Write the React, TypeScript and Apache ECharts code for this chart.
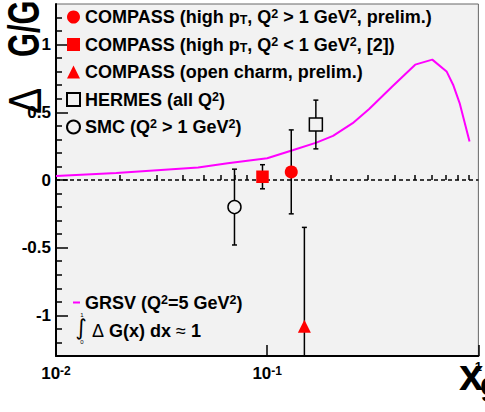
import React, { useEffect, useRef } from "react";
import * as echarts from "echarts";

// ---------- data ----------
const seriesNames = [
  "COMPASS (high pT, Q2 > 1 GeV2, prelim.)",
  "COMPASS (high pT, Q2 < 1 GeV2, [2])",
  "COMPASS (open charm, prelim.)",
  "HERMES (all Q2)",
  "SMC (Q2 > 1 GeV2)",
];
const legendLabels = [
  "COMPASS (high p{sub|T}, Q{sup|2} > 1 GeV{sup|2}, prelim.)",
  "COMPASS (high p{sub|T}, Q{sup|2} < 1 GeV{sup|2}, [2])",
  "COMPASS (open charm, prelim.)",
  "HERMES (all Q{sup|2})",
  "SMC (Q{sup|2} > 1 GeV{sup|2})",
];
const pointX = [0.13, 0.095, 0.15, 0.17, 0.07];
const pointY = [0.06, 0.024, -1.08, 0.41, -0.2];
const pointErr = [0.31, 0.089, 0.73, 0.18, 0.28];

const grsvName = "GRSV (Q2=5 GeV2)";
const grsvLabel = "GRSV (Q{sup|2}=5 GeV{sup|2})";
const grsvX = [0.01, 0.0193, 0.0471, 0.065, 0.1, 0.133, 0.171, 0.205, 0.254, 0.304, 0.391, 0.502, 0.605, 0.707, 0.759, 0.815, 0.908];
const grsvY = [0.03, 0.052, 0.093, 0.124, 0.161, 0.222, 0.276, 0.326, 0.42, 0.524, 0.691, 0.852, 0.889, 0.802, 0.704, 0.568, 0.284];

const xMinorTicks = [0.02, 0.03, 0.04, 0.05, 0.06, 0.07, 0.08, 0.09, 0.2, 0.3, 0.4, 0.5, 0.6, 0.7, 0.8, 0.9];
const yMajorTicks = [-1, -0.5, 0, 0.5, 1];
const yMinorTicks = [-1.2, -1.1, -0.9, -0.8, -0.7, -0.6, -0.4, -0.3, -0.2, -0.1, 0.1, 0.2, 0.3, 0.4, 0.6, 0.7, 0.8, 0.9, 1.1, 1.2];

// ---------- styles ----------
const FONT = "'Liberation Sans', Arial, Helvetica, sans-serif";
const BG = "#f2f2f2";
const RED = "#ff0000";
const MAGENTA = "#ff00ff";
const symbols = ["circle", "rect", "triangle", "rect", "circle"];
const symbolSizes = [13, 12.5, 13, 13, 13];
const fills = [RED, RED, RED, BG, BG];
const borders = [RED, RED, RED, "#000", "#000"];
const borderWidths = [0, 0, 0, 1.5, 1.5];
const LEG_FS = 18;

const labelRich = {
  sup: { fontSize: 12.5, fontWeight: "bold", fontFamily: FONT, verticalAlign: "top", lineHeight: 11, color: "#000" },
  sub: { fontSize: 12.5, fontWeight: "bold", fontFamily: FONT, verticalAlign: "bottom", lineHeight: 8, color: "#000" },
};

export default function App() {
  const ref = useRef<HTMLDivElement>(null);

  useEffect(() => {
    if (!ref.current) return;
    const chart = echarts.init(ref.current, null, { renderer: "svg" });

    const labelMap: Record<string, string> = {};
    seriesNames.forEach((n, i) => (labelMap[n] = legendLabels[i]));
    labelMap[grsvName] = grsvLabel;

    const pointSeries = seriesNames.map((name, i) => ({
      name,
      type: "scatter",
      xAxisIndex: 0,
      yAxisIndex: 0,
      symbol: symbols[i],
      symbolSize: symbolSizes[i],
      itemStyle: { color: fills[i], borderColor: borders[i], borderWidth: borderWidths[i], opacity: 1 },
      z: 5,
      clip: true,
      data: [[pointX[i], pointY[i]]],
    }));

    const errData = pointX.map((x, i) => [x, pointY[i], pointErr[i]]);

    const legendText = {
      fontFamily: FONT,
      fontWeight: "bold",
      fontSize: LEG_FS,
      lineHeight: 19,
      color: "#000",
      rich: labelRich,
    };

    const option: any = {
      animation: false,
      backgroundColor: "#ffffff",
      textStyle: { fontFamily: FONT },
      grid: {
        left: 56,
        right: 1,
        top: 4,
        bottom: 56,
        show: true,
        backgroundColor: BG,
        borderColor: "#666",
        borderWidth: 1,
      },
      legend: [
        {
          data: seriesNames.map((n, i) => ({ name: n, icon: symbols[i] })),
          orient: "vertical",
          left: 66,
          top: 7.5,
          padding: 0,
          itemGap: 8.5,
          itemWidth: 13,
          itemHeight: 13,
          selectedMode: false,
          formatter: (n: string) => labelMap[n],
          textStyle: legendText,
        },
        {
          data: [{ name: grsvName, icon: "rect" }],
          orient: "vertical",
          left: 73,
          top: 293,
          padding: 0,
          itemWidth: 7,
          itemHeight: 2,
          selectedMode: false,
          formatter: (n: string) => labelMap[n],
          textStyle: legendText,
        },
      ],
      xAxis: [
        {
          type: "log",
          logBase: 10,
          min: 0.01,
          max: 1,
          position: "bottom",
          axisLine: { show: true, onZero: false, lineStyle: { color: "#000", width: 2 } },
          axisTick: { show: true, inside: true, length: 11, lineStyle: { color: "#000", width: 1.5 } },
          splitLine: { show: false },
          minorTick: { show: false },
          axisLabel: {
            margin: 9,
            showMinLabel: true,
            showMaxLabel: true,
            color: "#000",
            fontFamily: FONT,
            fontWeight: "bold",
            fontSize: 17,
            formatter: (v: number) => {
              const k = Math.round(Math.log10(v));
              if (k === 0) return "{one|1}";
              return "10{sup|" + k + "}";
            },
            rich: {
              sup: { fontSize: 12, fontWeight: "bold", fontFamily: FONT, verticalAlign: "top", lineHeight: 12, color: "#000" },
              one: { fontSize: 13, fontWeight: "bold", fontFamily: FONT, color: "#000", lineHeight: 2 },
            },
          },
        },
        {
          type: "log",
          logBase: 10,
          min: 0.01,
          max: 1,
          position: "bottom",
          axisLine: { show: false },
          axisLabel: { show: false },
          splitLine: { show: false },
          axisTick: { show: true, inside: true, length: 5, customValues: xMinorTicks, lineStyle: { color: "#000", width: 1.5 } },
        },
      ],
      yAxis: [
        {
          type: "value",
          min: -1.3,
          max: 1.3,
          position: "left",
          axisLine: { show: true, onZero: false, lineStyle: { color: "#000", width: 2 } },
          axisTick: { show: true, inside: true, length: 12, customValues: yMajorTicks, lineStyle: { color: "#000", width: 1.5 } },
          splitLine: { show: false },
          axisLabel: {
            customValues: yMajorTicks,
            showMaxLabel: true,
            margin: 5,
            color: "#000",
            fontFamily: FONT,
            fontWeight: "bold",
            fontSize: 17,
          },
        },
        {
          type: "value",
          min: -1.3,
          max: 1.3,
          position: "left",
          axisLine: { show: false },
          axisLabel: { show: false },
          splitLine: { show: false },
          axisTick: { show: true, inside: true, length: 6, customValues: yMinorTicks, lineStyle: { color: "#000", width: 1.5 } },
        },
      ],
      series: [
        {
          name: grsvName,
          type: "line",
          xAxisIndex: 0,
          yAxisIndex: 0,
          data: grsvX.map((x, i) => [x, grsvY[i]]),
          showSymbol: false,
          symbol: "none",
          lineStyle: { color: MAGENTA, width: 2 },
          itemStyle: { color: MAGENTA },
          z: 2,
          clip: true,
          markLine: {
            silent: true,
            symbol: ["none", "none"],
            label: { show: false },
            lineStyle: { color: "#000", type: [4, 3], width: 1.5 },
            data: [{ yAxis: 0 }],
          },
        },
        {
          name: "errors",
          type: "custom",
          xAxisIndex: 0,
          yAxisIndex: 0,
          clip: true,
          z: 3,
          data: errData,
          renderItem: (_p: any, api: any) => {
            const x = api.value(0);
            const y = api.value(1);
            const e = api.value(2);
            const t = api.coord([x, y + e]);
            const b = api.coord([x, y - e]);
            const cap = 2.5;
            const st = { stroke: "#000", lineWidth: 1.5 };
            return {
              type: "group",
              children: [
                { type: "line", shape: { x1: t[0], y1: t[1], x2: b[0], y2: b[1] }, style: st },
                { type: "line", shape: { x1: t[0] - cap, y1: t[1], x2: t[0] + cap, y2: t[1] }, style: st },
                { type: "line", shape: { x1: b[0] - cap, y1: b[1], x2: b[0] + cap, y2: b[1] }, style: st },
              ],
            };
          },
        },
        ...pointSeries,
      ],
      graphic: [
        // y-axis title
        {
          type: "text",
          x: 25,
          y: 114,
          rotation: Math.PI / 2,
          scaleX: 0.85,
          style: {
            text: "\u0394",
            fontFamily: FONT,
            fontWeight: "normal",
            fontSize: 46,
            fill: "#000",
            align: "left",
            verticalAlign: "middle",
          },
          z: 1,
        },
        {
          type: "text",
          x: 24,
          y: 57,
          rotation: Math.PI / 2,
          scaleX: 0.7,
          style: {
            text: "G/G",
            fontFamily: FONT,
            fontWeight: "bold",
            fontSize: 44,
            fill: "#000",
            align: "left",
            verticalAlign: "middle",
          },
          z: 1,
        },
        // x-axis title
        {
          type: "text",
          x: 459,
          y: 374,
          style: { text: "x", fontFamily: FONT, fontWeight: "bold", fontSize: 44, fill: "#000", align: "left", verticalAlign: "middle" },
          z: 10,
        },
        {
          type: "text",
          x: 480,
          y: 384,
          style: { text: "g", fontFamily: FONT, fontWeight: "bold", fontSize: 32, fill: "#000", align: "left", verticalAlign: "middle" },
          z: 10,
        },
        // integral annotation
        {
          type: "text",
          x: 81,
          y: 327,
          style: { text: "\u222B", fontFamily: "'DejaVu Sans', sans-serif", fontSize: 22, fill: "#000", align: "center", verticalAlign: "middle" },
          z: 10,
        },
        {
          type: "text",
          x: 82,
          y: 315,
          style: { text: "1", fontFamily: FONT, fontSize: 6, fill: "#000", align: "center", verticalAlign: "middle" },
          z: 10,
        },
        {
          type: "text",
          x: 82,
          y: 342,
          style: { text: "0", fontFamily: FONT, fontSize: 6, fill: "#000", align: "center", verticalAlign: "middle" },
          z: 10,
        },
        {
          type: "text",
          x: 92,
          y: 331,
          style: {
            text: "{d|\u0394} G(x) dx {a|\u2248} 1",
            fontFamily: FONT,
            fontWeight: "bold",
            fontSize: LEG_FS,
            fill: "#000",
            align: "left",
            verticalAlign: "middle",
            rich: {
              d: { fontFamily: FONT, fontWeight: "normal", fontSize: LEG_FS, fill: "#000" },
              a: { fontFamily: FONT, fontWeight: "normal", fontSize: LEG_FS, fill: "#000" },
            },
          },
          z: 10,
        },
      ],
    };

    chart.setOption(option);
    return () => chart.dispose();
  }, []);

  return (
    <div
      ref={ref}
      style={{ position: "fixed", left: 0, top: 0, width: 485, height: 412, background: "#fff" }}
    />
  );
}
